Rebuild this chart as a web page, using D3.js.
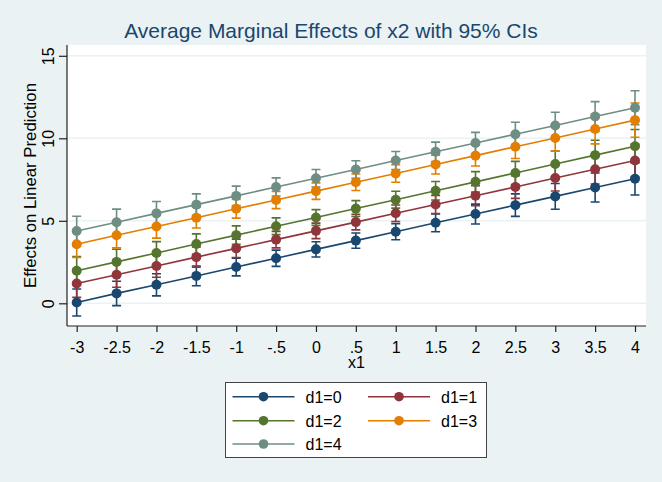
<!DOCTYPE html>
<html>
<head>
<meta charset="utf-8">
<script src="https://cdn.jsdelivr.net/npm/d3@7/dist/d3.min.js"></script>
<style>
  body { margin: 0; background: #eaf2f3; }
  svg { display: block; }
  text { font-family: "Liberation Sans", Arial, sans-serif; fill: #000; }
</style>
</head>
<body>
<div id="chart"></div>
<script>
var xValues = [-3, -2.5, -2, -1.5, -1, -0.5, 0, 0.5, 1, 1.5, 2, 2.5, 3, 3.5, 4];
var xTickLabels = ["-3", "-2.5", "-2", "-1.5", "-1", "-.5", "0", ".5", "1", "1.5", "2", "2.5", "3", "3.5", "4"];
var yTicks = [0, 5, 10, 15];
var seriesNames = ["d1=0", "d1=1", "d1=2", "d1=3", "d1=4"];
var seriesColors = ["#1a476f", "#90353b", "#55752f", "#e37e00", "#6e8e84"];

// point estimates
var est0 = [0.05, 0.60, 1.12, 1.66, 2.20, 2.73, 3.27, 3.80, 4.34, 4.88, 5.41, 5.95, 6.48, 7.02, 7.55];
var est1 = [1.20, 1.73, 2.26, 2.80, 3.33, 3.86, 4.39, 4.92, 5.46, 5.99, 6.52, 7.05, 7.59, 8.12, 8.65];
var est2 = [1.97, 2.51, 3.05, 3.59, 4.13, 4.67, 5.20, 5.74, 6.28, 6.82, 7.36, 7.90, 8.44, 8.98, 9.52];
var est3 = [3.58, 4.12, 4.65, 5.19, 5.73, 6.26, 6.80, 7.34, 7.87, 8.41, 8.95, 9.49, 10.02, 10.56, 11.10];
var est4 = [4.38, 4.91, 5.45, 5.98, 6.51, 7.05, 7.58, 8.11, 8.65, 9.18, 9.71, 10.25, 10.78, 11.32, 11.85];

// half-width of the 95% CIs
var ci0 = [0.82, 0.74, 0.67, 0.60, 0.54, 0.49, 0.46, 0.46, 0.49, 0.54, 0.60, 0.68, 0.78, 0.88, 0.99];
var ci1 = [0.84, 0.76, 0.68, 0.61, 0.55, 0.50, 0.47, 0.47, 0.50, 0.55, 0.61, 0.69, 0.78, 0.89, 1.00];
var ci2 = [0.86, 0.77, 0.69, 0.62, 0.56, 0.51, 0.48, 0.48, 0.51, 0.56, 0.62, 0.70, 0.79, 0.90, 1.01];
var ci3 = [0.80, 0.76, 0.70, 0.63, 0.57, 0.52, 0.50, 0.50, 0.53, 0.57, 0.63, 0.71, 0.80, 0.90, 1.04];
var ci4 = [0.90, 0.80, 0.72, 0.65, 0.59, 0.55, 0.53, 0.53, 0.55, 0.59, 0.65, 0.72, 0.80, 0.90, 1.03];

var estimates = [est0, est1, est2, est3, est4];
var halfWidths = [ci0, ci1, ci2, ci3, ci4];

var width = 662, height = 482;
var plot = { left: 67, right: 646, top: 45, bottom: 326 };

var svg = d3.select("#chart").append("svg")
    .attr("width", width)
    .attr("height", height);

svg.append("rect")
    .attr("width", width).attr("height", height)
    .attr("fill", "#eaf2f3");

svg.append("rect")
    .attr("x", plot.left).attr("y", plot.top)
    .attr("width", plot.right - plot.left)
    .attr("height", plot.bottom - plot.top)
    .attr("fill", "#ffffff");

var x = d3.scaleLinear().domain([-3, 4]).range([76.7, 635]);
var y = d3.scaleLinear().domain([0, 15]).range([303.3, 55.8]);

// grid lines
svg.append("g").selectAll("line")
    .data(yTicks)
    .enter().append("line")
    .attr("x1", plot.left).attr("x2", plot.right)
    .attr("y1", function(d) { return y(d); })
    .attr("y2", function(d) { return y(d); })
    .attr("stroke", "#eaf2f3")
    .attr("stroke-width", 1.5);

// y axis
var yAxis = svg.append("g")
    .attr("transform", "translate(" + plot.left + ",0)")
    .call(d3.axisLeft(y).tickValues(yTicks).tickSize(8).tickSizeOuter(0).tickFormat(d3.format("d")));
yAxis.select(".domain").attr("d", "M0," + plot.top + "V" + plot.bottom).attr("stroke", "#222");
yAxis.selectAll(".tick line").attr("stroke", "#222");
yAxis.selectAll(".tick text")
    .attr("font-size", 16)
    .attr("x", 0).attr("dy", 0)
    .attr("text-anchor", "middle")
    .attr("transform", "translate(-13.5,0) rotate(-90)");

// x axis
var xAxis = svg.append("g")
    .attr("transform", "translate(0," + plot.bottom + ")")
    .call(d3.axisBottom(x).tickValues(xValues).tickSize(6).tickSizeOuter(0)
        .tickFormat(function(d, i) { return xTickLabels[i]; }));
xAxis.select(".domain").attr("d", "M" + plot.left + ",0H" + plot.right).attr("stroke", "#222");
xAxis.selectAll(".tick line").attr("stroke", "#222");
xAxis.selectAll(".tick text")
    .attr("font-size", 16)
    .attr("y", 26.5).attr("dy", 0);
svg.selectAll(".domain, .tick line").attr("stroke-width", 1.2);

// titles
svg.append("text")
    .attr("x", 331).attr("y", 38)
    .attr("text-anchor", "middle")
    .attr("font-size", 21)
    .style("fill", "#1a476f")
    .text("Average Marginal Effects of x2 with 95% CIs");

svg.append("text")
    .attr("transform", "translate(36," + ((plot.top + plot.bottom) / 2) + ") rotate(-90)")
    .attr("text-anchor", "middle")
    .attr("font-size", 16.8)
    .text("Effects on Linear Prediction");

svg.append("text")
    .attr("x", (plot.left + plot.right) / 2).attr("y", 368)
    .attr("text-anchor", "middle")
    .attr("font-size", 16)
    .text("x1");

// build series
var series = seriesNames.map(function(name, s) {
    return {
        name: name,
        color: seriesColors[s],
        points: xValues.map(function(xv, i) {
            return { x: xv, y: estimates[s][i], lo: estimates[s][i] - halfWidths[s][i], hi: estimates[s][i] + halfWidths[s][i] };
        })
    };
});

// confidence intervals
var capW = 4.5;
series.forEach(function(s) {
    var g = svg.append("g").attr("stroke", s.color).attr("stroke-width", 1.6);
    g.selectAll("path")
        .data(s.points)
        .enter().append("path")
        .attr("fill", "none")
        .attr("d", function(d) {
            var px = x(d.x), ylo = y(d.lo), yhi = y(d.hi);
            return "M" + px + "," + ylo + "V" + yhi +
                "M" + (px - capW) + "," + yhi + "H" + (px + capW) +
                "M" + (px - capW) + "," + ylo + "H" + (px + capW);
        });
});

var line = d3.line()
    .x(function(d) { return x(d.x); })
    .y(function(d) { return y(d.y); });

series.forEach(function(s) {
    svg.append("path")
        .datum(s.points)
        .attr("fill", "none")
        .attr("stroke", s.color)
        .attr("stroke-width", 1.6)
        .attr("d", line);
    svg.append("g").selectAll("circle")
        .data(s.points)
        .enter().append("circle")
        .attr("cx", function(d) { return x(d.x); })
        .attr("cy", function(d) { return y(d.y); })
        .attr("r", 5)
        .attr("fill", s.color);
});

// legend
var legend = svg.append("g");
legend.append("rect")
    .attr("x", 225.5).attr("y", 382.5)
    .attr("width", 261).attr("height", 75)
    .attr("fill", "#ffffff")
    .attr("stroke", "#444")
    .attr("stroke-width", 1);

var legendCols = [232.5, 368];
var legendRows = [396.7, 420.7, 444];
var item = legend.selectAll(".item")
    .data(series)
    .enter().append("g")
    .attr("class", "item")
    .attr("transform", function(d, i) {
        return "translate(" + legendCols[i % 2] + "," + legendRows[Math.floor(i / 2)] + ")";
    });
item.append("line")
    .attr("x1", 0).attr("x2", 62)
    .attr("stroke", function(d) { return d.color; })
    .attr("stroke-width", 1.6);
item.append("circle")
    .attr("cx", 31).attr("r", 4.8)
    .attr("fill", function(d) { return d.color; });
item.append("text")
    .attr("x", 73).attr("y", 6)
    .attr("font-size", 16)
    .text(function(d) { return d.name; });
</script>
</body>
</html>
